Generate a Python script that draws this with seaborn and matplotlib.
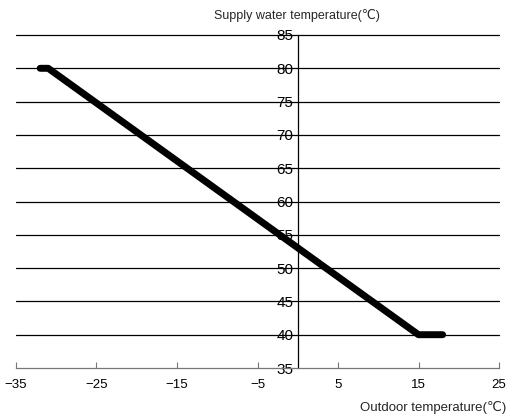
import pandas as pd
import matplotlib
matplotlib.use("Agg")
import matplotlib.pyplot as plt
import seaborn as sns

# heating curve: outdoor temp vs supply water temp
outdoor = [-32, -31, 15, 18]
supply = [80, 80, 40, 40]
x_ticks = [-35, -25, -15, -5, 5, 15, 25]
y_ticks = [35, 40, 45, 50, 55, 60, 65, 70, 75, 80, 85]

df = pd.DataFrame({"Outdoor": outdoor, "Supply": supply})

sns.set_theme(style="white")
plt.rcParams['font.family'] = ['Liberation Sans', 'DejaVu Sans']

fig = plt.figure(figsize=(5.08, 4.18), dpi=100)
ax = fig.add_axes([16 / 508, 50 / 418, 483 / 508, 333 / 418])

sns.lineplot(data=df, x="Outdoor", y="Supply", ax=ax, color="black",
             linewidth=5, solid_capstyle="round", solid_joinstyle="round",
             zorder=5)

ax.set_xlim(-35, 25)
ax.set_ylim(35, 85)
ax.set_xticks(x_ticks)
ax.set_yticks(y_ticks)
ax.set_xticklabels([str(v).replace("-", "\u2212") for v in x_ticks], fontsize=9.5)
ax.set_yticklabels([str(v) for v in y_ticks], fontsize=9.5)

for v in y_ticks[1:]:
    ax.axhline(v, color="black", lw=0.9, zorder=1, clip_on=False)

ax.spines['top'].set_visible(False)
ax.spines['right'].set_visible(False)
ax.spines['left'].set_position(('data', 0))
ax.spines['left'].set_color("black")
ax.spines['left'].set_linewidth(0.9)
ax.spines['bottom'].set_color("#777777")
ax.spines['bottom'].set_linewidth(0.9)

ax.tick_params(axis='y', length=0, pad=3, colors="black")
ax.tick_params(axis='x', direction='in', length=4, width=0.8, color="#777777",
               pad=8, labelcolor="black", bottom=True)

ax.set_xlabel("")
ax.set_ylabel("")
fig.text(297 / 508, 1 - 15 / 418, "Supply water temperature(\u2103)", ha="center",
         va="center", fontsize=9)
fig.text(506 / 508, 1 - 408 / 418, "Outdoor temperature(\u2103)", ha="right",
         va="center", fontsize=9.5)

fig.savefig("out.png", dpi=100)
